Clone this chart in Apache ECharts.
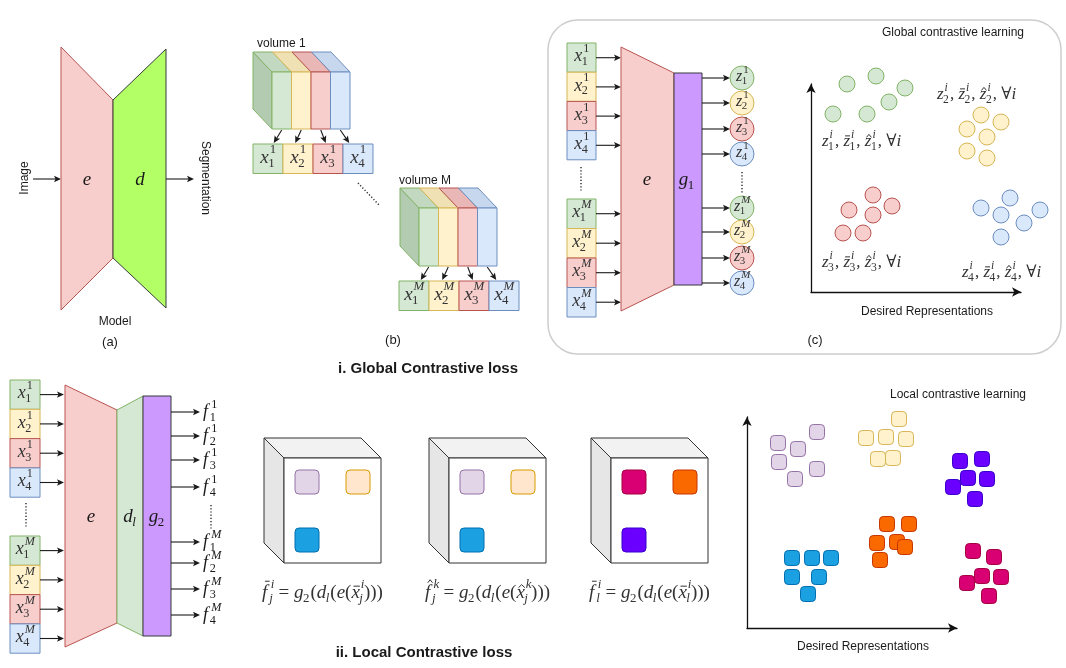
<!DOCTYPE html>
<html><head><meta charset="utf-8">
<script src="https://cdn.jsdelivr.net/npm/echarts@6/dist/echarts.min.js"></script>
<style>html,body{margin:0;padding:0;background:#fff}#c{width:1066px;height:668px}</style>
</head><body><div id="c"></div>
<script>
// ================= DATA =================
const panelTitles = ['i. Global Contrastive loss', 'ii. Local Contrastive loss'];
const panelTags = ['(a)', '(b)', '(c)'];
const modelTexts = ['Image', 'Segmentation', 'Model'];
const volumeNames = ['volume 1', 'volume M'];
const volumeIds = ['1', 'M'];
const sliceIds = ['1', '2', '3', '4'];
const moduleNames = ['e', 'd', 'd_l', 'g_1', 'g_2'];
const globalOutputSymbol = 'z';
const localOutputSymbol = 'f';
const globalClusterLabels = [
  'z^i_1, \\bar{z}^i_1, \\hat{z}^i_1, \\forall i',
  'z^i_2, \\bar{z}^i_2, \\hat{z}^i_2, \\forall i',
  'z^i_3, \\bar{z}^i_3, \\hat{z}^i_3, \\forall i',
  'z^i_4, \\bar{z}^i_4, \\hat{z}^i_4, \\forall i'
];
const cubeFormulas = [
  '\\bar{f}^i_j = g_2(d_l(e(\\bar{x}^i_j)))',
  '\\hat{f}^k_j = g_2(d_l(e(\\hat{x}^k_j)))',
  '\\bar{f}^i_l = g_2(d_l(e(\\bar{x}^i_l)))'
];
const plotTitles = ['Global contrastive learning', 'Local contrastive learning'];
const plotAxisName = 'Desired Representations';

// representation-space coordinates
const gcGreen  = [[36,208],[65,216],[94,204],[78,190],[22,178],[56,178]];
const gcYellow = [[170,177],[190,170],[156,163],[176,155],[156,141],[176,134]];
const gcRed    = [[62,97],[38,82],[81,86],[62,77],[32,59],[52,59]];
const gcBlue   = [[199,94],[170,84],[229,82],[190,77],[213,69],[190,55]];
const lcLavender = [[70,196],[31,185],[51,179],[32,166],[70,159],[48,149]];
const lcYellow   = [[152,209],[119,190],[139,191],[159,189],[131,169],[146,170]];
const lcViolet   = [[213,167],[235,169],[221,150],[240,149],[206,141],[228,129]];
const lcOrange   = [[140,104],[162,104],[130,85],[150,86],[158,81],[133,68]];
const lcCyan     = [[45,70],[65,70],[84,70],[45,51],[72,51],[61,34]];
const lcMagenta  = [[226,77],[247,71],[235,52],[254,51],[220,45],[242,32]];

// ================= STYLE / LAYOUT =================
const FONT_SANS = '"Liberation Sans", Arial, Helvetica, sans-serif';
const FONT_MATH = '"Liberation Serif", "DejaVu Serif", serif';
const PAL = {
  green:{fill:'#d5e8d4',stroke:'#82b366',top:'#c3d8c1',side:'#b3cbb1'},
  yellow:{fill:'#fff2cc',stroke:'#d6b656',top:'#f0e1b4'},
  red:{fill:'#f8cecc',stroke:'#b85450',top:'#e9b7b5'},
  blue:{fill:'#dae8fc',stroke:'#6c8ebf',top:'#c6d7ee'},
  lavender:{fill:'#e1d5e7',stroke:'#9673a6'},
  peach:{fill:'#ffe6cc',stroke:'#d79b00'},
  cyan:{fill:'#1ba1e2',stroke:'#006eaf'},
  magenta:{fill:'#d80073',stroke:'#a50040'},
  orange:{fill:'#fa6800',stroke:'#c73500'},
  violet:{fill:'#6a00ff',stroke:'#3700cc'},
  enc:{fill:'#f8cecc',stroke:'#b85450'},
  dec:{fill:'#b3ff66',stroke:'#36393d'},
  head:{fill:'#cc99ff',stroke:'#36393d'}
};
const SLICE_PAL = ['green','yellow','red','blue'];
const CUBE_PAL = [['lavender','peach','cyan'],['lavender','peach','cyan'],['magenta','orange','violet']];
const INK = '#1a1a1a';

// ================= HELPERS =================
const measCtx = document.createElement('canvas').getContext('2d');
function tw(t, f){ measCtx.font = f; return measCtx.measureText(t).width; }
function mFont(c, s){ return (/[A-Za-z]/.test(c) ? 'italic ' : '') + s + 'px ' + FONT_MATH; }
function parseMath(s){
  const atoms = []; let i = 0;
  const grp = () => { if (s[i] === '{'){ const j = s.indexOf('}', i); const g = s.slice(i+1, j); i = j+1; return g; } return s[i++]; };
  while (i < s.length){
    const ch = s[i];
    if (ch === '\\'){
      const m = /^\\(bar|hat|forall)/.exec(s.slice(i)); i += m[0].length;
      if (m[1] === 'forall'){ atoms.push({b:'\u2200'}); while (s[i] === ' ') i++; continue; }
      const g = grp(); atoms.push({b:g, acc:m[1]}); continue;
    }
    if (ch === '^'){ i++; atoms[atoms.length-1].sup = grp(); continue; }
    if (ch === '_'){ i++; atoms[atoms.length-1].sub = grp(); continue; }
    atoms.push({b:ch}); i++;
  }
  return atoms;
}
function mathEls(P, str, x, y, size, align, color){
  color = color || INK;
  const atoms = parseMath(str), ss = Math.round(size*0.68*10)/10;
  let w = 0; const items = [];
  for (const a of atoms){
    const bf = mFont(a.b, size), bw = tw(a.b, bf);
    const supW = a.sup ? tw(a.sup, mFont(a.sup, ss)) : 0, subW = a.sub ? tw(a.sub, mFont(a.sub, ss)) : 0;
    const italic = /[A-Za-z]/.test(a.b);
    const kern = (a.b === 'f' && (a.sup || a.sub)) ? size*0.12 : 0;
    items.push({a, x:w, bw, bf, italic, kern});
    const sw = Math.max(supW, subW);
    w += bw + (sw ? sw + 0.5 + kern : 0);
  }
  const x0 = align === 'center' ? x - w/2 : align === 'right' ? x - w : x;
  const out = [];
  for (const it of items){
    const bx = x0 + it.x, p = P(bx, y);
    out.push({type:'text', x:p[0], y:p[1], style:{text:it.a.b, font:it.bf, fill:color, align:'left', verticalAlign:'middle'}});
    if (it.a.sup){ const q = P(bx + it.bw + it.kern + (it.italic ? 1 : 0), y - size*0.42);
      out.push({type:'text', x:q[0], y:q[1], style:{text:it.a.sup, font:mFont(it.a.sup, ss), fill:color, align:'left', verticalAlign:'middle'}}); }
    if (it.a.sub){ const q = P(bx + it.bw + it.kern - (it.italic ? 0.5 : 0), y + size*0.3);
      out.push({type:'text', x:q[0], y:q[1], style:{text:it.a.sub, font:mFont(it.a.sub, ss), fill:color, align:'left', verticalAlign:'middle'}}); }
    if (it.a.acc){
      const tall = /[bdfhklt]/.test(it.a.b);
      const ya = y - size*(tall ? 0.62 : 0.36);
      const xa = bx + it.bw*0.25 + (tall ? size*0.08 : 0), xb = bx + it.bw*1.0 + (tall ? size*0.12 : 0);
      if (it.a.acc === 'bar'){
        const a1 = P(xa, ya), a2 = P(xb, ya);
        out.push({type:'line', shape:{x1:a1[0], y1:a1[1], x2:a2[0], y2:a2[1]}, style:{stroke:color, lineWidth:1}});
      } else {
        const xm = (xa+xb)/2;
        out.push({type:'polyline', shape:{points:[P(xa, ya+1.5), P(xm, ya-1.5), P(xb, ya+1.5)]}, style:{stroke:color, lineWidth:1, fill:null}});
      }
    }
  }
  return out;
}
function poly(P, pts, fill, stroke, lw){
  return {type:'polygon', shape:{points:pts.map(p => P(p[0], p[1]))}, style:{fill, stroke, lineWidth:lw || 1}};
}
function rect(P, x, y, w, h, fill, stroke, r, lw){
  const a = P(x, y), b = P(x+w, y+h);
  return {type:'rect', shape:{x:a[0], y:a[1], width:b[0]-a[0], height:b[1]-a[1], r:r || 0}, style:{fill, stroke, lineWidth:lw || 1}};
}
function txt(P, x, y, t, font, align, rot, color){
  const p = P(x, y);
  return {type:'text', x:p[0], y:p[1], rotation:rot || 0, style:{text:t, font, fill:color || INK, align:align || 'center', verticalAlign:'middle'}};
}
function arrow(P, x1, y1, x2, y2){
  const a = P(x1, y1), b = P(x2, y2), head = 7, half = 3.2;
  const dx = b[0]-a[0], dy = b[1]-a[1], L = Math.hypot(dx, dy), ux = dx/L, uy = dy/L;
  const bx = b[0]-ux*head, by = b[1]-uy*head;
  return [
    {type:'line', shape:{x1:a[0], y1:a[1], x2:bx+ux*2, y2:by+uy*2}, style:{stroke:INK, lineWidth:1.1}},
    {type:'polygon', shape:{points:[[b[0], b[1]], [bx-uy*half, by+ux*half], [bx+ux*1.5, by+uy*1.5], [bx+uy*half, by-ux*half]]}, style:{fill:INK}}
  ];
}
function dots(P, x1, y1, x2, y2){
  const a = P(x1, y1), b = P(x2, y2);
  return {type:'line', shape:{x1:a[0], y1:a[1], x2:b[0], y2:b[1]}, style:{stroke:'#333', lineWidth:1.5, lineDash:[1.2, 2]}};
}
function volume(P, x0, yTop, h, w, dx, dy){
  const out = [], g = PAL.green;
  out.push(poly(P, [[x0,yTop],[x0+dx,yTop+dy],[x0+dx,yTop+dy+h],[x0,yTop+h]], g.side, g.stroke));
  SLICE_PAL.forEach((c, k) => { const xk = x0 + k*w, p = PAL[c];
    out.push(poly(P, [[xk,yTop],[xk+w,yTop],[xk+w+dx,yTop+dy],[xk+dx,yTop+dy]], p.top, p.stroke)); });
  SLICE_PAL.forEach((c, k) => { const xk = x0 + k*w, p = PAL[c];
    out.push(rect(P, xk, yTop, w, h, p.fill, p.stroke)); });
  return out;
}
function inputBox(P, x, y, w, h, k, vol, size){
  const p = PAL[SLICE_PAL[k]];
  return [rect(P, x, y, w, h, p.fill, p.stroke), ...mathEls(P, 'x^{' + volumeIds[vol] + '}_' + sliceIds[k], x + w/2, y + h/2 - 1, size, 'center', '#333')];
}

// ================= DIAGRAM =================
function buildDiagram(api){
  const P = (x, y) => api.coord([x, y]);
  let E = [];
  // titles
  E.push(txt(P, 428, 369, panelTitles[0], 'bold 15px ' + FONT_SANS));
  E.push(txt(P, 424, 653, panelTitles[1], 'bold 15px ' + FONT_SANS));

  // ---- (a) ----
  E.push(...arrow(P, 33, 179, 61, 179));
  E.push(txt(P, 25, 178, modelTexts[0], '12px ' + FONT_SANS, 'center', Math.PI/2));
  E.push(poly(P, [[61,47],[113,100],[113,258],[61,310]], PAL.enc.fill, PAL.enc.stroke));
  E.push(poly(P, [[113,100],[166,49],[166,308],[113,258]], PAL.dec.fill, PAL.dec.stroke));
  E.push(...mathEls(P, moduleNames[0], 87, 180, 19, 'center'));
  E.push(...mathEls(P, moduleNames[1], 140, 180, 19, 'center'));
  E.push(...arrow(P, 166, 179, 194, 179));
  E.push(txt(P, 205, 178, modelTexts[1], '12px ' + FONT_SANS, 'center', -Math.PI/2));
  E.push(txt(P, 115, 322, modelTexts[2], '12px ' + FONT_SANS));
  E.push(txt(P, 110, 342, panelTags[0], '13px ' + FONT_SANS));

  // ---- (b) ----
  const vols = [{x0:272, y:72, h:57, bx:253, by:144, lx:257, ly:44}, {x0:419, y:208, h:58, bx:399, by:281, lx:399, ly:181}];
  const arrowOff = [-8, -6, 5, 9];
  vols.forEach((v, vi) => {
    E.push(txt(P, v.lx, v.ly, volumeNames[vi], '12px ' + FONT_SANS, 'left'));
    E.push(...volume(P, v.x0, v.y, v.h, 19.5, -19, -20));
    sliceIds.forEach((s, k) => {
      const sx = v.x0 + 19.5*(k+0.5);
      E.push(...arrow(P, sx, v.y + v.h + 1, sx + arrowOff[k], v.by - 1));
      E.push(...inputBox(P, v.bx + 30*k, v.by, 30, 29.5, k, vi, 19));
    });
  });
  E.push(dots(P, 358, 183, 380, 206));
  E.push(txt(P, 393, 340, panelTags[1], '13px ' + FONT_SANS));

  // ---- (c) ----
  E.push(rect(P, 548, 20, 513, 334, 'none', '#cdcdcd', 30, 1.5));
  const cIn = [[43,72.2,101.4,130.6],[199,228.5,258,287.5]];
  cIn.forEach((col, vi) => col.forEach((y, k) => {
    E.push(...inputBox(P, 567, y, 29, col === cIn[0] ? 29.2 : 29.5, k, vi, 18));
    E.push(...arrow(P, 596, y + 14.7, 621, y + 14.7));
  }));
  E.push(dots(P, 581, 167, 581, 192));
  E.push(poly(P, [[621,47],[674,73],[674,285],[621,311]], PAL.enc.fill, PAL.enc.stroke));
  E.push(rect(P, 674, 73, 28, 212, PAL.head.fill, PAL.head.stroke));
  E.push(...mathEls(P, moduleNames[0], 647, 180, 19, 'center'));
  E.push(...mathEls(P, moduleNames[3], 687, 180, 19, 'center'));
  const cOut = [[78,103,129,154],[208,232,258,283]];
  cOut.forEach((col, vi) => col.forEach((y, k) => {
    E.push(...arrow(P, 702, y, 730, y));
    const p = PAL[SLICE_PAL[k]], c = P(742, y);
    E.push({type:'circle', shape:{cx:c[0], cy:c[1], r:12}, style:{fill:p.fill, stroke:p.stroke, lineWidth:1}});
    E.push(...mathEls(P, globalOutputSymbol + '^{' + volumeIds[vi] + '}_' + sliceIds[k], 742, y - 1.5, 16, 'center', '#333'));
  }));
  E.push(dots(P, 742, 172, 742, 194));
  E.push(txt(P, 815, 340, panelTags[2], '13px ' + FONT_SANS));
  E.push(txt(P, 953, 33, plotTitles[0], '12px ' + FONT_SANS));
  E.push(txt(P, 927, 312, plotAxisName, '12px ' + FONT_SANS));
  const lblPos = [[822,142],[937,95],[822,263],[962,273]];
  globalClusterLabels.forEach((s, i) => E.push(...mathEls(P, s, lblPos[i][0], lblPos[i][1], 17, 'left', '#333')));

  // ---- ii. local ----
  const lIn = [[380,409.3,438.6,467.9],[536,565.3,594.6,623.9]];
  lIn.forEach((col, vi) => col.forEach((y, k) => {
    E.push(...inputBox(P, 10, y, 30, 29.3, k, vi, 18));
    E.push(...arrow(P, 40, y + 14.6, 64, y + 14.6));
  }));
  E.push(dots(P, 26, 503, 26, 528));
  E.push(poly(P, [[65,385],[117,410],[117,623],[65,647]], PAL.enc.fill, PAL.enc.stroke));
  E.push(poly(P, [[117,410],[143,396],[143,636],[117,623]], PAL.green.fill, PAL.green.stroke));
  E.push(rect(P, 143, 396, 28, 240, PAL.head.fill, PAL.head.stroke));
  E.push(...mathEls(P, moduleNames[0], 91, 517, 19, 'center'));
  E.push(...mathEls(P, moduleNames[2], 130, 517, 19, 'center'));
  E.push(...mathEls(P, moduleNames[4], 157, 517, 19, 'center'));
  const lOut = [[412,436,460,487],[542,563,589,615]];
  lOut.forEach((col, vi) => col.forEach((y, k) => {
    E.push(...arrow(P, 171, y, 200, y));
    E.push(...mathEls(P, localOutputSymbol + '^{' + volumeIds[vi] + '}_' + sliceIds[k], 203, y, 18, 'left'));
  }));
  E.push(dots(P, 211, 505, 211, 530));

  // cubes
  const cubeX = [284, 449, 611], cy = 458, cw = 97, ch = 105, dx = -20, dy = -20;
  const patchPos = [[11,12],[62,12],[11,70]];
  cubeX.forEach((x, ci) => {
    E.push(poly(P, [[x,cy],[x+dx,cy+dy],[x+dx,cy+dy+ch],[x,cy+ch]], '#e6e6e6', '#333'));
    E.push(poly(P, [[x,cy],[x+cw,cy],[x+cw+dx,cy+dy],[x+dx,cy+dy]], '#f2f2f2', '#333'));
    E.push(rect(P, x, cy, cw, ch, '#ffffff', '#333'));
    CUBE_PAL[ci].forEach((c, k) => E.push(rect(P, x + patchPos[k][0], cy + patchPos[k][1], 24, 24, PAL[c].fill, PAL[c].stroke, 4)));
    E.push(...mathEls(P, cubeFormulas[ci], x + 38.5, 593, 19, 'center', '#333'));
  });
  E.push(txt(P, 958, 395, plotTitles[1], '12px ' + FONT_SANS));
  E.push(txt(P, 863, 647, plotAxisName, '12px ' + FONT_SANS));
  return E;
}

// ================= CHART =================
const axisStyle = {
  type:'value', axisTick:{show:false}, axisLabel:{show:false}, splitLine:{show:false},
  axisLine:{show:true, onZero:false, symbol:['none','arrow'], symbolSize:[7,9], lineStyle:{color:'#111', width:1.3}}
};
function sc(xi, data, pal, symbol, size){
  return {type:'scatter', xAxisIndex:xi, yAxisIndex:xi, data, symbol, symbolSize:size, clip:false, silent:true,
    itemStyle:{color:pal.fill, borderColor:pal.stroke, borderWidth:1, opacity:1}};
}
const chart = echarts.init(document.getElementById('c'), null, {renderer:'canvas'});
chart.setOption({
  animation:false,
  backgroundColor:'#ffffff',
  grid:[
    {left:0, top:0, width:1066, height:668},
    {left:811, top:84, width:210, height:208},
    {left:747, top:417, width:210, height:211}
  ],
  xAxis:[
    {gridIndex:0, type:'value', min:0, max:1066, show:false},
    Object.assign({gridIndex:1, min:0, max:210}, axisStyle),
    Object.assign({gridIndex:2, min:0, max:210}, axisStyle)
  ],
  yAxis:[
    {gridIndex:0, type:'value', min:0, max:668, inverse:true, show:false},
    Object.assign({gridIndex:1, min:0, max:208}, axisStyle),
    Object.assign({gridIndex:2, min:0, max:211}, axisStyle)
  ],
  series:[
    {type:'custom', xAxisIndex:0, yAxisIndex:0, data:[[0,0]], clip:false, silent:true,
      renderItem:(params, api) => ({type:'group', children:buildDiagram(api)})},
    sc(1, gcGreen, PAL.green, 'circle', 16),
    sc(1, gcYellow, PAL.yellow, 'circle', 16),
    sc(1, gcRed, PAL.red, 'circle', 16),
    sc(1, gcBlue, PAL.blue, 'circle', 16),
    sc(2, lcLavender, PAL.lavender, 'roundRect', 15),
    sc(2, lcYellow, PAL.yellow, 'roundRect', 15),
    sc(2, lcViolet, PAL.violet, 'roundRect', 15),
    sc(2, lcOrange, PAL.orange, 'roundRect', 15),
    sc(2, lcCyan, PAL.cyan, 'roundRect', 15),
    sc(2, lcMagenta, PAL.magenta, 'roundRect', 15)
  ]
});
</script></body></html>
